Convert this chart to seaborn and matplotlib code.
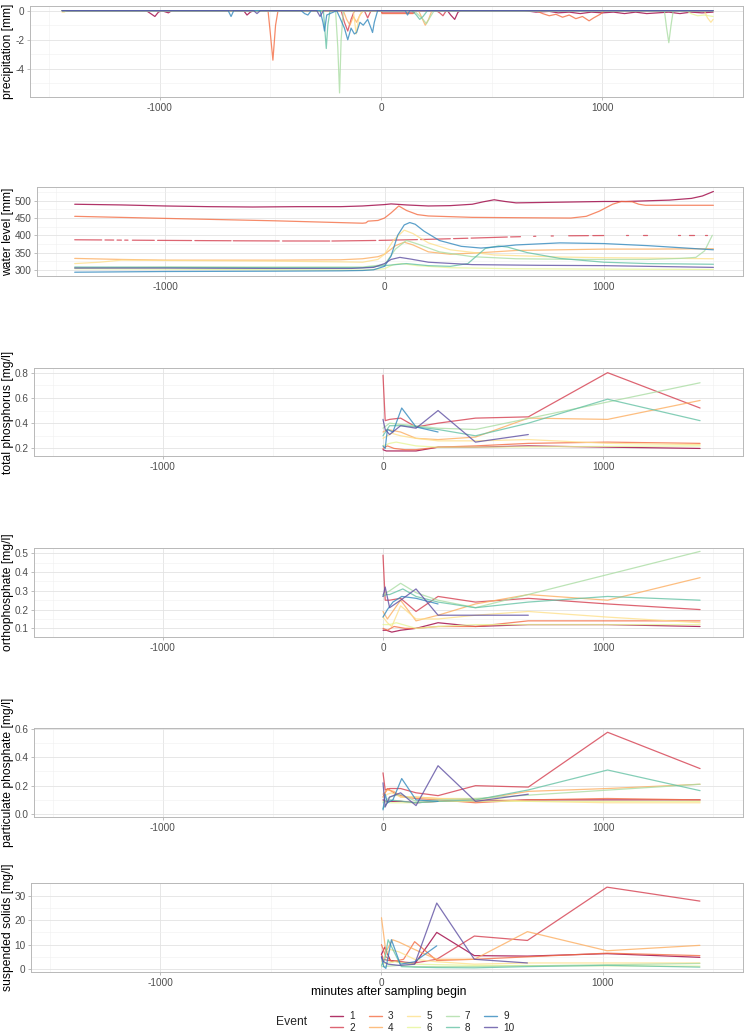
import numpy as np
import pandas as pd
import matplotlib
matplotlib.use("Agg")
import matplotlib.pyplot as plt
from matplotlib.lines import Line2D
from matplotlib.ticker import FixedLocator
import seaborn as sns

nan = np.nan

# ---------------- categories / colours ----------------
events = [1, 2, 3, 4, 5, 6, 7, 8, 9, 10]
event_colors = ["#9E0142", "#D53E4F", "#F46D43", "#FDAE61", "#FEE08B",
                "#E6F598", "#ABDDA4", "#66C2A5", "#3288BD", "#5E4FA2"]
y_titles = ["precipitation [mm]", "water level [mm]", "total phosphorus [mg/l]",
            "orthophosphate [mg/l]", "particulate phosphate [mg/l]", "suspended solids [mg/l]"]
x_title = "minutes after sampling begin"
x_ticks = [-1000, 0, 1000]

# ---------------- precipitation (negative, mm) ----------------
prec_x_e1 = [-1440, -1060, -1040, -1021, -1005, -990, -960, -945, -925, -620, -605, -590, -575,
             300, 315, 333, 348, 360, 650, 700, 760, 800, 850, 900, 950, 1000, 1050, 1100, 1150,
             1200, 1250, 1300, 1350, 1400, 1450, 1500]
prec_y_e1 = [0, 0, -0.2, -0.4, -0.1, 0, -0.15, 0, 0, 0, -0.3, -0.1, 0,
             0, -0.3, -0.6, -0.1, 0, 0, -0.1, -0.05, -0.15, -0.1, -0.2, -0.1, -0.15, -0.1, -0.2, -0.1,
             -0.2, -0.15, -0.1, -0.2, -0.1, -0.15, -0.1]
prec_x_e2 = [-1440, -180, -165, -150, -135, -120, -75, -60, -45, 0, 5, 150, 155, 250, 265, 280, 295, 1500]
prec_y_e2 = [0, 0, -0.8, -1.4, -0.6, 0, 0, -0.5, 0, 0, -0.15, -0.15, 0, 0, -0.15, -0.35, 0, 0]
prec_x_e3 = [-1440, -510, -500, -488, -476, -465, 0, 5, 145, 150, 700, 730, 760, 790, 820, 850,
             880, 910, 940, 960, 990, 1010, 1500]
prec_y_e3 = [0, 0, -1.5, -3.4, -1.0, 0, 0, -0.2, -0.2, 0, 0, -0.2, -0.35, -0.25, -0.45, -0.3,
             -0.55, -0.4, -0.7, -0.5, -0.25, 0, 0]
prec_x_e4 = [-1440, -170, -155, -140, -125, -110, -95, -80, 170, 185, 200, 215, 230, 1500]
prec_y_e4 = [0, 0, -0.6, -1.0, -0.4, -0.8, -0.3, 0, 0, -0.5, -1.0, -0.6, 0, 0]
prec_x_e5 = [-1440, -1430, -1420, -125, -112, -100, -85, 1460, 1475, 1490, 1500]
prec_y_e5 = [-0.1, -0.1, 0, 0, -1.6, -0.5, 0, 0, -0.5, -0.8, -0.6]
prec_x_e6 = [-1440, 1380, 1400, 1430, 1460, 1500]
prec_y_e6 = [0, 0, -0.2, -0.35, -0.3, -0.4]
prec_x_e7 = [-1440, -205, -195, -187, -180, -170, 150, 170, 190, 205, 220, 240,
             1280, 1290, 1300, 1310, 1320, 1500]
prec_y_e7 = [0, 0, -2.5, -5.65, -2.0, 0, 0, -0.3, -0.6, -0.9, -0.5, 0,
             0, -1.2, -2.2, -1.0, 0, 0]
prec_x_e8 = [-1440, -260, -253, -247, -240, -230, 140, 160, 175, 190, 210, 1500]
prec_y_e8 = [0, 0, -1.4, -2.6, -1.0, 0, 0, -0.3, -0.6, -0.4, 0, 0]
prec_x_e9 = [-1440, -690, -677, -665, -360, -345, -330, -315, -275, -262, -255, -245, -200, -185,
             -165, -150, -135, -120, -110, -95, -80, -60, -45, -38, -30, -15, 110, 120, 130, 1500]
prec_y_e9 = [0, 0, -0.4, 0, 0, -0.2, -0.3, 0, 0, -0.8, -1.4, -0.3, 0, -0.5,
             -1.2, -2.0, -1.2, -1.6, -1.5, -0.8, -1.0, -0.6, -1.2, -1.5, -0.8, 0, 0, -0.3, 0, 0]
prec_x_e10 = [-1440, -575, -560, -545, -290, -275, -260, 1500]
prec_y_e10 = [0, 0, -0.2, 0, 0, -0.4, 0, 0]

# ---------------- water level (mm); NaN marks gaps in the record ----------------
level_x_e1 = [-1413, -1200, -1000, -800, -600, -400, -200, -100, 0, 30, 100, 200, 300, 400, 450,
              500, 550, 600, 700, 800, 900, 1000, 1100, 1200, 1300, 1400, 1450, 1500]
level_y_e1 = [490, 488, 485, 483, 482, 483, 483, 485, 489, 491, 488, 485, 486, 490, 497,
              503, 498, 494, 495, 496, 497, 498, 498, 500, 502, 507, 514, 527]
level_x_e2 = [-1413, -1290, nan, -1275, -1235, nan, -1220, -1200, nan, -1185, -1170, nan,
              -1150, -1050, nan, -1035, -880, nan, -865, -700, nan, -690, -480, nan,
              -465, -250, nan, -240, -40, nan, -25, 150, nan, 165, 300, nan, 315, 380, nan,
              395, 560, nan, 575, 620, nan, 680, 690, nan, 760, 770, nan, 840, 930, nan,
              950, 1000, nan, 1100, 1110, nan, 1180, 1195, nan, 1340, 1348, nan,
              1390, 1410, nan, 1460, 1470]
level_y_e2 = [387, 386.5, nan, 386.4, 386.2, nan, 386.1, 386, nan, 386, 385.9, nan,
              385.8, 385.4, nan, 385.3, 384.8, nan, 384.7, 384.2, nan, 384.1, 383.6, nan,
              383.5, 383.4, nan, 383.4, 385, nan, 385.2, 387.5, nan, 387.7, 390, nan, 390.3, 391.5, nan,
              391.8, 395, nan, 395.3, 396, nan, 397, 397.2, nan, 398, 398.1, nan, 398.6, 399, nan,
              399.1, 399.3, nan, 399.6, 399.6, nan, 400, 400, nan, 400.3, 400.3, nan,
              400.4, 400.4, nan, 400.5, 400.5]
level_x_e3 = [-1413, -1000, -500, -100, -85, -75, -30, 0, 30, 65, 100, 150, 200, 400, 600, 850,
              920, 980, 1040, 1080, 1130, 1160, 1190, 1500]
level_y_e3 = [455, 449, 442, 435, 436, 441, 443, 450, 465, 485, 472, 460, 456, 452, 451, 450,
              455, 470, 490, 498, 497, 490, 487, 487]
level_x_e4 = [-1413, -1200, -1000, -500, -200, -100, -30, 0, 50, 90, 130, 200, 300, 450, 600,
              800, 1000, 1200, 1500]
level_y_e4 = [333, 330, 328, 328, 329, 332, 338, 345, 370, 380, 372, 352, 345, 350, 356,
              358, 360, 360, 361]
level_x_e5 = [-1413, -1300, -1200, -1000, -500, -200, -100, -30, 0, 40, 90, 130, 200, 300, 500,
              800, 1000, 1200, 1500]
level_y_e5 = [318, 322, 328, 327, 325, 323, 322, 330, 345, 385, 415, 405, 378, 358, 343,
              337, 335, 334, 332]
level_x_e6 = [-1413, -1000, -500, -100, 0, 40, 80, 150, 300, 600, 1000, 1500]
level_y_e6 = [303, 302, 300, 299, 303, 315, 318, 312, 306, 303, 302, 301]
level_x_e7 = [-1413, -1000, -500, -100, 0, 50, 100, 150, 250, 400, 600, 900, 1200, 1350,
              1420, 1460, 1495]
level_y_e7 = [306, 308, 308, 308, 315, 360, 385, 375, 352, 338, 332, 330, 330, 333,
              336, 355, 400]
level_x_e8 = [-1413, -1000, -500, -100, 0, 100, 200, 300, 380, 420, 460, 520, 560, 650, 800,
              1000, 1200, 1500]
level_y_e8 = [308, 307, 306, 306, 312, 318, 312, 310, 318, 340, 362, 369, 366, 350, 333,
              322, 318, 316]
level_x_e9 = [-1413, -1000, -500, -200, -100, -50, 0, 30, 60, 90, 115, 140, 180, 250, 350, 440,
              520, 600, 800, 1000, 1200, 1400, 1500]
level_y_e9 = [293, 295, 296, 297, 298, 300, 310, 340, 400, 430, 437, 432, 412, 385, 368, 363,
              367, 372, 378, 376, 370, 362, 358]
level_x_e10 = [-1413, -1000, -500, -150, -50, 0, 30, 70, 120, 200, 400, 700, 1000, 1300, 1500]
level_y_e10 = [305, 305, 304, 304, 307, 318, 330, 336, 331, 322, 315, 313, 312, 309, 307]

# ---------------- lab samples: sampling times (min) and concentrations ----------------
t_e1 = [0, 15, 40, 80, 150, 250, 420, 660, 1020, 1440]
tp_e1 = [0.19, 0.18, 0.18, 0.18, 0.18, 0.21, 0.21, 0.22, 0.21, 0.20]
op_e1 = [0.09, 0.09, 0.08, 0.09, 0.10, 0.13, 0.11, 0.12, 0.12, 0.11]
pp_e1 = [0.10, 0.09, 0.09, 0.09, 0.08, 0.09, 0.09, 0.10, 0.10, 0.10]
ss_e1 = [6.0, 9.0, 3.5, 3.0, 2.0, 15.0, 5.5, 5.3, 6.3, 4.8]

t_e2 = [0, 10, 30, 80, 150, 250, 420, 660, 1020, 1440]
tp_e2 = [0.78, 0.42, 0.43, 0.44, 0.37, 0.40, 0.44, 0.45, 0.80, 0.52]
op_e2 = [0.49, 0.25, 0.25, 0.26, 0.19, 0.27, 0.24, 0.26, 0.23, 0.20]
pp_e2 = [0.29, 0.17, 0.18, 0.18, 0.15, 0.13, 0.20, 0.19, 0.575, 0.32]
ss_e2 = [6.0, 4.0, 3.5, 3.0, 2.5, 4.0, 13.5, 11.7, 33.5, 27.8]

t_e3 = [0, 20, 50, 100, 150, 250, 420, 660, 1020, 1440]
tp_e3 = [0.20, 0.22, 0.20, 0.19, 0.19, 0.21, 0.22, 0.24, 0.25, 0.24]
op_e3 = [0.10, 0.09, 0.11, 0.10, 0.10, 0.11, 0.11, 0.14, 0.14, 0.14]
pp_e3 = [0.12, 0.18, 0.15, 0.12, 0.11, 0.10, 0.08, 0.10, 0.11, 0.10]
ss_e3 = [10.0, 5.0, 3.0, 4.0, 11.2, 3.5, 4.0, 5.0, 6.5, 5.5]

t_e4 = [0, 20, 50, 80, 150, 250, 420, 660, 1020, 1440]
tp_e4 = [0.33, 0.35, 0.34, 0.33, 0.28, 0.27, 0.29, 0.44, 0.43, 0.58]
op_e4 = [0.19, 0.15, 0.20, 0.25, 0.14, 0.17, 0.23, 0.28, 0.25, 0.37]
pp_e4 = [0.14, 0.17, 0.16, 0.12, 0.12, 0.11, 0.10, 0.16, 0.18, 0.21]
ss_e4 = [21.0, 7.0, 12.0, 11.0, 8.0, 4.0, 4.0, 15.3, 7.5, 9.7]

t_e5 = [0, 20, 40, 80, 150, 250, 420, 660, 1020, 1440]
tp_e5 = [0.28, 0.30, 0.32, 0.30, 0.28, 0.26, 0.26, 0.27, 0.24, 0.23]
op_e5 = [0.16, 0.13, 0.11, 0.22, 0.15, 0.15, 0.17, 0.19, 0.16, 0.13]
pp_e5 = [0.12, 0.14, 0.15, 0.12, 0.12, 0.11, 0.11, 0.09, 0.08, 0.08]
ss_e5 = [3.0, 6.0, 8.0, 7.0, 4.0, 3.0, 2.0, 2.5, 2.5, 2.5]

t_e6 = [0, 30, 60, 150, 250, 420, 1440]
tp_e6 = [0.22, 0.24, 0.25, 0.22, 0.21, 0.21, 0.22]
op_e6 = [0.12, 0.12, 0.13, 0.10, 0.11, 0.12, 0.12]
pp_e6 = [0.09, 0.08, 0.08, 0.08, 0.09, 0.09, 0.09]
ss_e6 = [2.0, 2.5, 3.0, 2.0, 1.8, 1.5, 1.2]

t_e7 = [0, 30, 80, 150, 250, 420, 1440]
tp_e7 = [0.36, 0.40, 0.39, 0.38, 0.36, 0.35, 0.72]
op_e7 = [0.28, 0.30, 0.34, 0.29, 0.25, 0.21, 0.51]
pp_e7 = [0.08, 0.12, 0.14, 0.09, 0.10, 0.11, 0.21]
ss_e7 = [1.0, 1.2, 1.5, 1.0, 1.0, 1.0, 2.3]

t_e8 = [0, 15, 30, 90, 150, 250, 420, 660, 1020, 1440]
tp_e8 = [0.30, 0.34, 0.38, 0.38, 0.37, 0.35, 0.30, 0.40, 0.59, 0.42]
op_e8 = [0.27, 0.28, 0.28, 0.31, 0.27, 0.24, 0.21, 0.24, 0.27, 0.25]
pp_e8 = [0.04, 0.07, 0.10, 0.09, 0.08, 0.09, 0.10, 0.17, 0.31, 0.165]
ss_e8 = [1.5, 4.0, 12.0, 1.0, 0.8, 0.6, 0.5, 1.0, 1.5, 0.8]

t_e9 = [0, 10, 20, 45, 85, 150, 250]
tp_e9 = [0.22, 0.20, 0.35, 0.33, 0.52, 0.37, 0.33]
op_e9 = [0.16, 0.18, 0.20, 0.24, 0.27, 0.26, 0.23]
pp_e9 = [0.03, 0.14, 0.08, 0.10, 0.25, 0.10, 0.09]
ss_e9 = [5.0, 1.0, 0.3, 12.0, 2.0, 3.0, 9.5]

t_e10 = [0, 10, 30, 80, 150, 250, 420, 660]
tp_e10 = [0.43, 0.35, 0.31, 0.38, 0.36, 0.50, 0.25, 0.31]
op_e10 = [0.27, 0.32, 0.21, 0.25, 0.31, 0.17, 0.17, 0.17]
pp_e10 = [0.22, 0.05, 0.12, 0.15, 0.06, 0.34, 0.09, 0.14]
ss_e10 = [5.0, 3.0, 2.0, 1.5, 2.0, 27.0, 4.0, 2.5]

# ---------------- build long tables ----------------
def long_table(xs_list, ys_list):
    rows = []
    for ev, xs, ys in zip(events, xs_list, ys_list):
        xs = np.asarray(xs, float)
        ys = np.asarray(ys, float)
        seg = np.cumsum(np.isnan(xs))
        keep = ~np.isnan(xs)
        rows.append(pd.DataFrame({"minutes": xs[keep], "value": ys[keep],
                                  "Event": ev, "seg": ev * 1000 + seg[keep]}))
    return pd.concat(rows, ignore_index=True)

prec_x = [prec_x_e1, prec_x_e2, prec_x_e3, prec_x_e4, prec_x_e5, prec_x_e6, prec_x_e7, prec_x_e8, prec_x_e9, prec_x_e10]
prec_y = [prec_y_e1, prec_y_e2, prec_y_e3, prec_y_e4, prec_y_e5, prec_y_e6, prec_y_e7, prec_y_e8, prec_y_e9, prec_y_e10]
level_x = [level_x_e1, level_x_e2, level_x_e3, level_x_e4, level_x_e5, level_x_e6, level_x_e7, level_x_e8, level_x_e9, level_x_e10]
level_y = [level_y_e1, level_y_e2, level_y_e3, level_y_e4, level_y_e5, level_y_e6, level_y_e7, level_y_e8, level_y_e9, level_y_e10]
t_all = [t_e1, t_e2, t_e3, t_e4, t_e5, t_e6, t_e7, t_e8, t_e9, t_e10]
tp_all = [tp_e1, tp_e2, tp_e3, tp_e4, tp_e5, tp_e6, tp_e7, tp_e8, tp_e9, tp_e10]
op_all = [op_e1, op_e2, op_e3, op_e4, op_e5, op_e6, op_e7, op_e8, op_e9, op_e10]
pp_all = [pp_e1, pp_e2, pp_e3, pp_e4, pp_e5, pp_e6, pp_e7, pp_e8, pp_e9, pp_e10]
ss_all = [ss_e1, ss_e2, ss_e3, ss_e4, ss_e5, ss_e6, ss_e7, ss_e8, ss_e9, ss_e10]

tables = [long_table(prec_x, prec_y), long_table(level_x, level_y),
          long_table(t_all, tp_all), long_table(t_all, op_all),
          long_table(t_all, pp_all), long_table(t_all, ss_all)]

# ---------------- styling ----------------
sns.set_theme(style="white")
plt.rcParams["font.family"] = ["Liberation Sans", "DejaVu Sans"]
plt.rcParams["axes.unicode_minus"] = False

W, H = 749, 1032
fig = plt.figure(figsize=(W / 100, H / 100), dpi=100)
palette = dict(zip(events, event_colors))
LW, ALPHA = 0.9, 0.8

# panel boxes in pixels: left, right, top, bottom
boxes = [(30, 743, 6, 97), (37, 743, 187, 276), (34, 743, 368, 456),
         (34, 743, 548, 637), (34, 743, 728, 817), (31, 743, 883, 972)]
ylims = [(-5.93, 0.32), (282, 540), (0.14, 0.837), (0.054, 0.528), (-0.02, 0.605), (-1.2, 35.2)]
yticks = [[-4, -2, 0], [300, 350, 400, 450, 500], [0.2, 0.4, 0.6, 0.8],
          [0.1, 0.2, 0.3, 0.4, 0.5], [0.0, 0.2, 0.4, 0.6], [0, 10, 20, 30]]
yminor = [[-5, -3, -1], [325, 375, 425, 475, 525], [0.3, 0.5, 0.7],
          [0.15, 0.25, 0.35, 0.45], [0.1, 0.3, 0.5], [5, 15, 25, 35]]
ylabfmt = ["{:.0f}", "{:.0f}", "{:.1f}", "{:.1f}", "{:.1f}", "{:.0f}"]
XLIM = (-1585, 1635)

for i, (df, box) in enumerate(zip(tables, boxes)):
    l, r, t, b = box
    ax = fig.add_axes([l / W, 1 - b / H, (r - l) / W, (b - t) / H])
    ax.set_facecolor("white")
    sns.lineplot(data=df, x="minutes", y="value", hue="Event", hue_order=events,
                 palette=palette, units="seg", estimator=None, sort=False,
                 legend=False, ax=ax, linewidth=LW, alpha=ALPHA)
    ax.set_xlim(*XLIM)
    ax.set_ylim(*ylims[i])
    ax.xaxis.set_major_locator(FixedLocator(x_ticks))
    ax.xaxis.set_minor_locator(FixedLocator([-1500, -500, 500, 1500]))
    ax.yaxis.set_major_locator(FixedLocator(yticks[i]))
    ax.yaxis.set_minor_locator(FixedLocator(yminor[i]))
    ax.set_xticklabels([str(v) for v in x_ticks])
    ax.set_yticklabels([ylabfmt[i].format(v) for v in yticks[i]])
    ax.grid(True, which="major", color="#E3E3E3", linewidth=0.6, zorder=0)
    ax.grid(True, which="minor", color="#EFEFEF", linewidth=0.4, zorder=0)
    ax.set_axisbelow(True)
    for s in ax.spines.values():
        s.set_color("#B8B8B8")
        s.set_linewidth(0.7)
    ax.tick_params(axis="both", which="major", length=2.5, width=0.6, color="#B3B3B3",
                   labelsize=7.2, labelcolor="#4D4D4D", pad=1.5, bottom=True, left=True)
    ax.tick_params(axis="both", which="minor", length=0)
    ax.set_xlabel("")
    ax.set_ylabel("")
    fig.text(8 / W, 1 - ((t + b) / 2) / H, y_titles[i], rotation=90,
             ha="center", va="center", fontsize=8.7, color="black")

# x axis title
fig.text((34 + 743) / 2 / W, 1 - 992 / H, x_title, ha="center", va="center",
         fontsize=8.7, color="black")

# legend
handles = [Line2D([0], [0], color=c, lw=1.0, alpha=ALPHA) for c in event_colors]
labels = [str(e) for e in events]
fig.legend(handles, labels, ncol=5, loc="center left",
           bbox_to_anchor=(330 / W, 1 - 1022 / H), frameon=False, fontsize=7.2,
           handlelength=1.3, handletextpad=0.6, columnspacing=1.4, labelspacing=0.12,
           borderpad=0, borderaxespad=0)
fig.text(292 / W, 1 - 1022 / H, "Event", ha="center", va="center", fontsize=8.7)

fig.savefig("out.png", dpi=100)
